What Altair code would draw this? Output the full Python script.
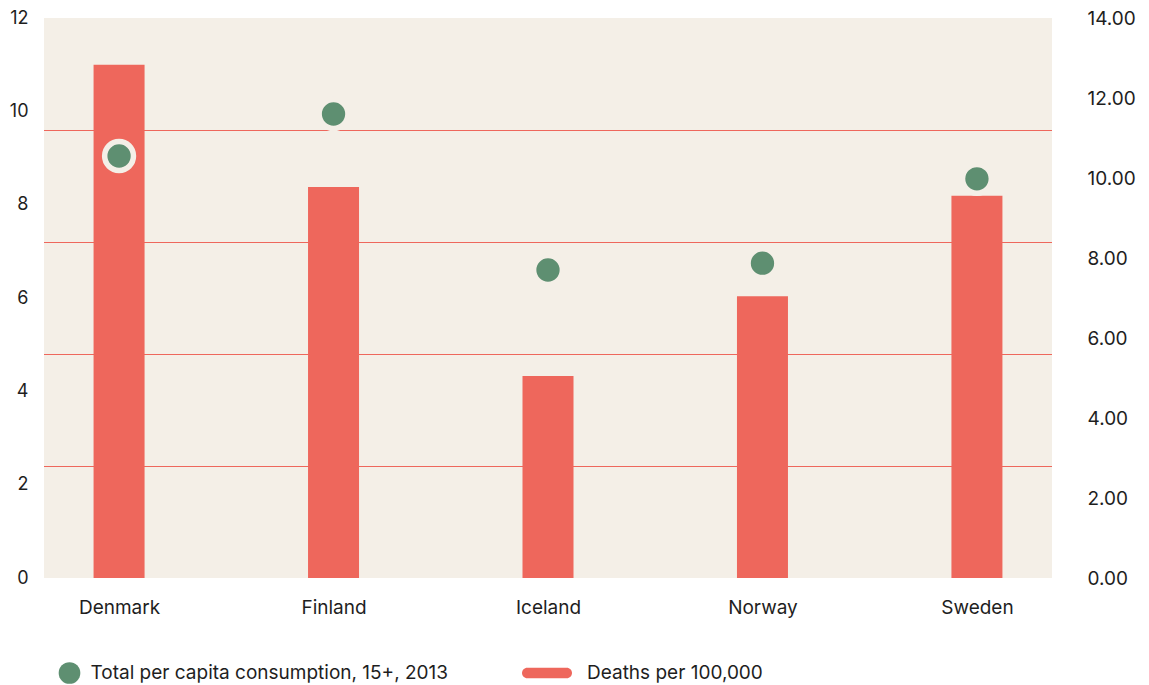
import altair as alt
import pandas as pd

countries = ["Denmark", "Finland", "Iceland", "Norway", "Sweden"]
deaths_per_100k = [11.0, 8.38, 4.33, 6.04, 8.19]
consumption = [10.55, 11.6, 7.7, 7.87, 9.98]
grid_levels = [1, 2, 3, 4]
left_ticks = [0, 2, 4, 6, 8, 10, 12]
right_ticks = [0, 2, 4, 6, 8, 10, 12, 14]
bar_series = "Deaths per 100,000"
dot_series = "Total per capita consumption, 15+, 2013"

RED = "#EE675C"
GREEN = "#5E8F71"
CREAM = "#F4EFE7"
TEXT = "#1E1E1E"
FONT = "Inter"

df = pd.DataFrame({"country": countries, "deaths": deaths_per_100k, "consumption": consumption})
grid_df = pd.DataFrame({"level": grid_levels})

x_enc = alt.X(
    "country:N",
    sort=countries,
    scale=alt.Scale(type="point", padding=0.35),
    axis=alt.Axis(title=None, labelAngle=0, domain=False, ticks=False, labelPadding=20,
                  labelFontSize=19, labelColor=TEXT, labelFont=FONT),
)

grid = alt.Chart(grid_df).mark_rule(color=RED, strokeWidth=1, yOffset=0.5).encode(
    y=alt.Y("level:Q", scale=alt.Scale(domain=[0, 5]), axis=None)
)

bars = alt.Chart(df).mark_bar(size=51, color=RED).encode(
    x=x_enc,
    y=alt.Y(
        "deaths:Q",
        scale=alt.Scale(domain=[0, 12], nice=False),
        axis=alt.Axis(orient="left", title=None, values=left_ticks, grid=False, domain=False,
                      ticks=False, labelPadding=16, labelFontSize=18, labelColor=TEXT,
                      labelFont=FONT),
    ),
    color=alt.Color(
        "series:N",
        scale=alt.Scale(range=[RED]),
        legend=alt.Legend(
            orient="none", legendX=478, legendY=630, title=None, padding=0,
            symbolType="M-0.79,-0.21L0.79,-0.21A0.21,0.21,0,0,1,0.79,0.21L-0.79,0.21A0.21,0.21,0,0,1,-0.79,-0.21Z",
            symbolSize=2500, symbolStrokeWidth=0, symbolOpacity=1, labelLimit=0,
            labelFontSize=19, labelColor=TEXT, labelFont=FONT, labelOffset=15,
        ),
    ),
).transform_calculate(series="'" + bar_series + "'")

dots = alt.Chart(df).mark_circle(size=830, opacity=1, stroke=CREAM, strokeWidth=5.5).encode(
    x=x_enc,
    y=alt.Y(
        "consumption:Q",
        scale=alt.Scale(domain=[0, 14], nice=False),
        axis=alt.Axis(orient="right", title=None, values=right_ticks, format=".2f", grid=False,
                      domain=False, ticks=False, labelPadding=35, labelFontSize=19,
                      labelColor=TEXT, labelFont=FONT),
    ),
    color=alt.Color(
        "series:N",
        scale=alt.Scale(range=[GREEN]),
        legend=alt.Legend(
            orient="none", legendX=14.5, legendY=644, title=None, padding=0,
            symbolType="circle", symbolSize=468, symbolStrokeWidth=0, symbolOpacity=1,
            labelLimit=0, labelFontSize=19, labelColor=TEXT, labelFont=FONT, labelOffset=10,
        ),
    ),
).transform_calculate(series="'" + dot_series + "'")

chart = (
    alt.layer(grid, bars, dots)
    .resolve_scale(y="independent", color="independent")
    .properties(
        width=1008,
        height=560,
        autosize=alt.AutoSizeParams(type="none"),
        padding={"left": 36, "top": 10, "right": 89, "bottom": 107},
    )
    .configure(font=FONT)
    .configure_view(fill=CREAM, strokeWidth=0)
)

chart.save("out.html", embed_options={"renderer": "svg", "actions": False})
